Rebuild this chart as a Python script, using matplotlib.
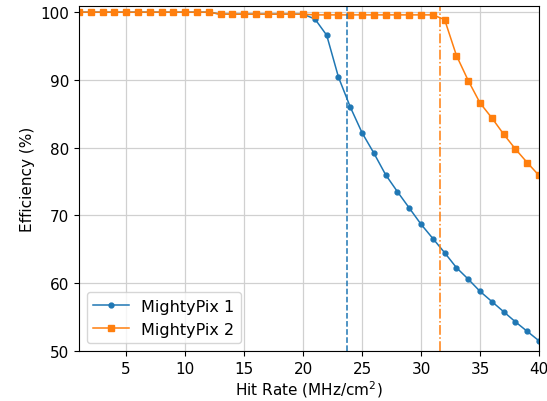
import matplotlib
matplotlib.use("Agg")
import matplotlib.pyplot as plt
import numpy as np

# Hit rate in MHz/cm^2
hit_rate = list(range(1, 41))

eff_mp1 = [100.0] * 12 + [99.7] * 8 + [
    99.0, 96.6, 90.4, 86.0, 82.2, 79.2, 76.0, 73.5, 71.1, 68.7,
    66.6, 64.5, 62.3, 60.6, 58.8, 57.3, 55.8, 54.3, 52.9, 51.5,
]
eff_mp2 = [100.0] * 12 + [99.7] * 8 + [99.6] * 11 + [
    98.9, 93.6, 89.9, 86.6, 84.4, 82.0, 79.8, 77.8, 75.9,
]

# hit rate where each chip drops below threshold
limit_mp1 = 23.7
limit_mp2 = 31.6

fig = plt.figure(figsize=(5.47, 4.02), dpi=100)
ax = fig.add_axes([0.1444, 0.1244, 0.841, 0.858])

ax.plot(hit_rate, eff_mp1, color="tab:blue", marker="o", markersize=3.5,
        linewidth=1.1, label="MightyPix 1")
ax.plot(hit_rate, eff_mp2, color="tab:orange", marker="s", markersize=4.2,
        linewidth=1.1, label="MightyPix 2")
ax.axvline(limit_mp1, color="tab:blue", linestyle="--", linewidth=1.1)
ax.axvline(limit_mp2, color="tab:orange", linestyle="-.", linewidth=1.1)

ax.set_xlim(1, 40)
ax.set_ylim(50, 100.9)
ax.set_xticks([5, 10, 15, 20, 25, 30, 35, 40])
ax.set_yticks([50, 60, 70, 80, 90, 100])
ax.tick_params(labelsize=11)
ax.set_xlabel("Hit Rate (MHz/cm$^2$)", fontsize=11, labelpad=2)
ax.set_ylabel("Efficiency (%)", fontsize=11)
ax.grid(color="#d0d0d0", linewidth=0.9)
ax.legend(loc="lower left", fontsize=11.5, handlelength=2.2)

fig.savefig("out.png", dpi=100)
